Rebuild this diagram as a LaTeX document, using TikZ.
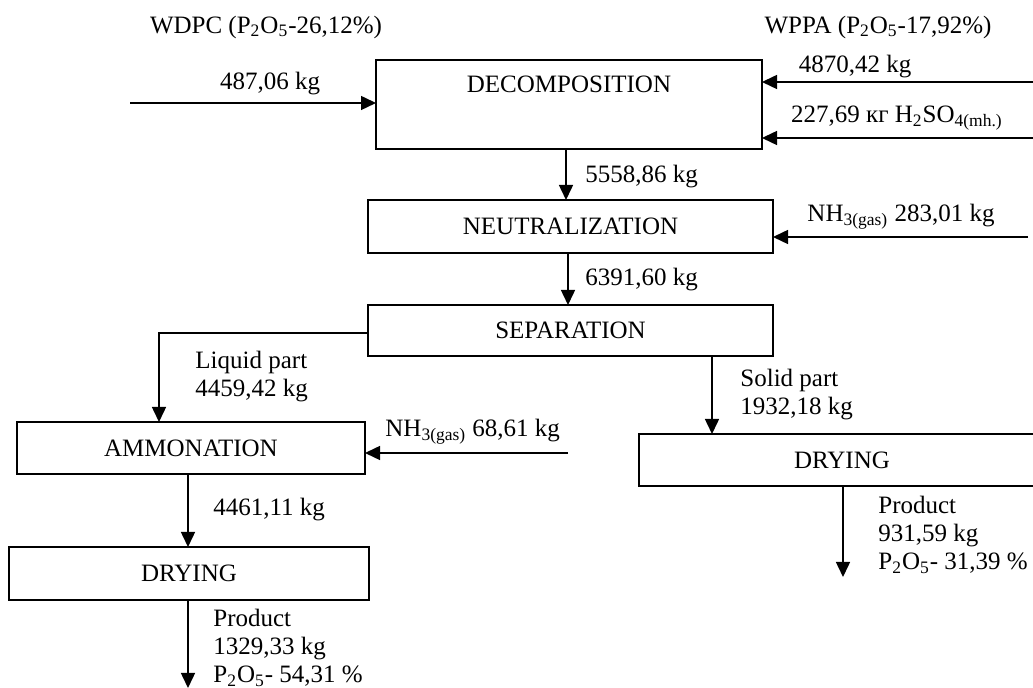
\documentclass[tikz,border=0pt]{standalone}
\usepackage{fontspec}
\setmainfont{Liberation Serif}
\usetikzlibrary{arrows.meta}
\begin{document}
\begin{tikzpicture}[x=0.5pt,y=-0.5pt,
 box/.style={draw, line width=1pt, inner sep=0pt, outer sep=0pt, font=\fontsize{12.5}{14}\selectfont},
 lbl/.style={inner sep=0pt, font=\fontsize{12.5}{14}\selectfont, align=left},
 arr/.style={line width=0.75pt, -{Triangle[length=7.5pt,width=7pt]}},
 ln/.style={line width=0.75pt}]
\useasboundingbox (0,0) rectangle (1033,688);
\clip (0,0) rectangle (1033,688);
% boxes
\node[box, minimum width=193pt, minimum height=44.5pt] (dec) at (569,104.5) {};
\node[lbl] (dect) at (569,84) {DECOMPOSITION};
\node[box, minimum width=202.5pt, minimum height=26.5pt] (neu) at (570.5,226.5) {NEUTRALIZATION};
\node[box, minimum width=202.5pt, minimum height=25.5pt] (sep) at (570.5,330.5) {SEPARATION};
\node[box, minimum width=174pt, minimum height=26pt] (amm) at (191,448) {AMMONATION};
\node[box, minimum width=180pt, minimum height=26.5pt] (dry1) at (189,573.5) {DRYING};
\node[box, minimum width=203pt, minimum height=26pt] (dry2) at (842,460) {DRYING};
% free ends
\coordinate (inw) at (130,103);
\coordinate (ine1) at (1040,82);
\coordinate (ine2) at (1040,138);
\coordinate (innh) at (1028,237);
\coordinate (innh2) at (568,453);
\coordinate (liqc) at (159,333);
\coordinate (out1) at (188,688);
\coordinate (out2) at (843,577);
% connectors
\draw[arr] (inw) -- (inw -| dec.west);
\draw[arr] (ine1) -- (ine1 -| dec.east);
\draw[arr] (ine2) -- (ine2 -| dec.east);
\draw[arr] (566,0 |- dec.south) -- (566,0 |- neu.north);
\draw[arr] (innh) -- (innh -| neu.east);
\draw[arr] (568,0 |- neu.south) -- (568,0 |- sep.north);
\draw[arr] (liqc -| sep.west) -- (liqc) -- (liqc |- amm.north);
\draw[arr] (innh2) -- (innh2 -| amm.east);
\draw[arr] (188,0 |- amm.south) -- (188,0 |- dry1.north);
\draw[arr] (out1 |- dry1.south) -- (out1);
\draw[arr] (712,0 |- sep.south) -- (712,0 |- dry2.north);
\draw[arr] (out2 |- dry2.south) -- (out2);
% labels
\node[lbl] (wdpc) at (266,27) {WDPC (P\textsubscript{2}O\textsubscript{5}-26,12\%)};
\node[lbl] (wppa) at (878,27) {WPPA (P\textsubscript{2}O\textsubscript{5}-17,92\%)};
\node[lbl] (l487) at (270,84) {487,06 kg};
\node[lbl] (l4870) at (855,67) {4870,42 kg};
\node[lbl] (lh2) at (897,118) {227,69 кг H\textsubscript{2}SO\textsubscript{4(mh.)}};
\node[lbl, anchor=west] (l5558) at (585,177) {5558,86 kg};
\node[lbl] (lnh3a) at (901,217) {NH\textsubscript{3(gas)} 283,01 kg};
\node[lbl, anchor=west] (l6391) at (585,280) {6391,60 kg};
\node[lbl, anchor=west] (lliq) at (195,377) {Liquid part\\4459,42 kg};
\node[lbl, anchor=west] (lnh3b) at (385,432) {NH\textsubscript{3(gas)} 68,61 kg};
\node[lbl, anchor=west] (l4461) at (213,510) {4461,11 kg};
\node[lbl, anchor=west] (lp1) at (213,648) {Product\\1329,33 kg\\P\textsubscript{2}O\textsubscript{5}- 54,31 \%};
\node[lbl, anchor=west] (lsol) at (740,395) {Solid part\\1932,18 kg};
\node[lbl, anchor=west] (lp2) at (878,535) {Product\\931,59 kg\\P\textsubscript{2}O\textsubscript{5}- 31,39 \%};
\end{tikzpicture}
\end{document}
